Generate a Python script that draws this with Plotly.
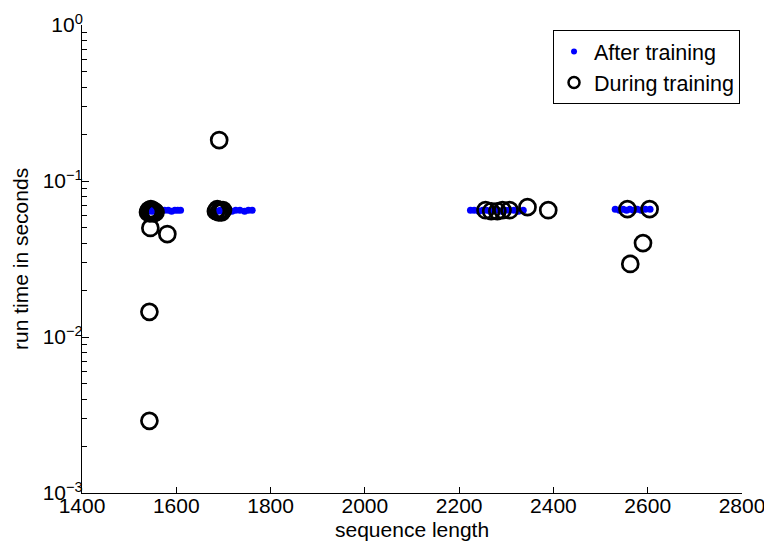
import plotly.graph_objects as go

# After training (blue dots)
after_x = [1539, 1543, 1547, 1550, 1553, 1557, 1562, 1568, 1575, 1583, 1590, 1597, 1603, 1609,
           1688, 1693, 1698, 1703, 1710, 1718, 1726, 1735, 1745, 1753, 1761,
           2224, 2232, 2242, 2250, 2258, 2266, 2274, 2282, 2290, 2298, 2306, 2316, 2326, 2336,
           2531, 2540, 2548, 2555, 2562, 2570, 2578, 2586, 2595, 2605]
after_y = [0.064, 0.065, 0.064, 0.065, 0.064, 0.065, 0.064, 0.065, 0.065, 0.065, 0.064, 0.065, 0.065, 0.065,
           0.064, 0.065, 0.064, 0.065, 0.065, 0.064, 0.065, 0.065, 0.064, 0.065, 0.065,
           0.065, 0.065, 0.064, 0.065, 0.065, 0.064, 0.065, 0.065, 0.064, 0.065, 0.065, 0.065, 0.064, 0.065,
           0.066, 0.065, 0.066, 0.065, 0.066, 0.065, 0.066, 0.065, 0.066, 0.066]

# During training (open circles)
during_x = [1540, 1542, 1544, 1546, 1548, 1550, 1552, 1554, 1556, 1545, 1581, 1543, 1543,
            1684, 1687, 1690, 1693, 1696, 1699, 1691,
            2256, 2268, 2281, 2292, 2307, 2345, 2389,
            2557, 2604, 2590, 2563]
during_y = [0.063, 0.065, 0.062, 0.066, 0.063, 0.065, 0.062, 0.064, 0.063, 0.050, 0.0457, 0.0145, 0.0029,
            0.064, 0.066, 0.063, 0.065, 0.063, 0.065, 0.183,
            0.065, 0.064, 0.064, 0.065, 0.065, 0.068, 0.065,
            0.066, 0.066, 0.040, 0.0294]

series_names = ["After training", "During training"]
x_ticks = [1400, 1600, 1800, 2000, 2200, 2400, 2600, 2800]
y_ticks = [1e-3, 1e-2, 1e-1, 1]
y_ticktext = ["10<sup>−3</sup>", "10<sup>−2</sup>", "10<sup>−1</sup>", "10<sup>0</sup>"]
y_minor = [m * 10.0 ** e for e in (-3, -2, -1) for m in range(2, 10)]

FONT = "Liberation Sans, Arial, Helvetica, sans-serif"

fig = go.Figure()
fig.add_trace(go.Scatter(
    x=after_x, y=after_y, mode="markers", name=series_names[0], showlegend=False,
    marker=dict(symbol="circle", size=7, color="#0000ff", line=dict(width=0)),
))
fig.add_trace(go.Scatter(
    x=during_x, y=during_y, mode="markers", name=series_names[1], showlegend=False,
    marker=dict(symbol="circle-open", size=16, color="black", line=dict(width=2.7, color="black")),
))
# legend-only entries (smaller legend glyphs, as in the reference)
fig.add_trace(go.Scatter(
    x=[None], y=[None], mode="markers", name=series_names[0],
    marker=dict(symbol="circle", size=6, color="#0000ff", line=dict(width=0)),
))
fig.add_trace(go.Scatter(
    x=[None], y=[None], mode="markers", name=series_names[1],
    marker=dict(symbol="circle-open", size=11, color="black", line=dict(width=2.5, color="black")),
))

fig.update_layout(
    width=764, height=536,
    margin=dict(l=74, r=30, t=17, b=51, autoexpand=False),
    paper_bgcolor="white", plot_bgcolor="white",
    font=dict(family=FONT, size=21, color="black"),
    showlegend=True,
    legend=dict(
        x=0.997, y=0.989, xanchor="right", yanchor="top",
        bordercolor="black", borderwidth=1, bgcolor="white",
        font=dict(size=21.5), itemsizing="trace", tracegroupgap=0,
    ),
    xaxis=dict(
        range=[1400, 2800], tickvals=x_ticks, ticks="inside", ticklen=6,
        tickcolor="black", showline=True, linecolor="black", linewidth=1,
        showgrid=False, zeroline=False, mirror=False, automargin=False,
        tickfont=dict(size=21), ticklabelstandoff=-6, ticklabeloverflow="allow",
    ),
    yaxis=dict(
        type="log", range=[-3, 0], tickvals=y_ticks, ticktext=y_ticktext,
        ticks="inside", ticklen=7, tickcolor="black",
        showline=True, linecolor="black", linewidth=1,
        showgrid=False, zeroline=False, mirror=False, automargin=False,
        minor=dict(tickvals=y_minor, ticks="inside", ticklen=5, tickcolor="black", showgrid=False),
        tickfont=dict(size=21), ticklabelstandoff=-6, ticklabeloverflow="allow",
    ),
    annotations=[
        dict(text="sequence length", xref="paper", yref="paper", x=0.5, y=-0.079,
             xanchor="center", yanchor="middle", showarrow=False, font=dict(size=21)),
        dict(text="run time in seconds", xref="paper", yref="paper", x=-0.094, y=0.5,
             xanchor="center", yanchor="middle", textangle=-90, showarrow=False, font=dict(size=21)),
    ],
)

fig.write_html("out.html")
